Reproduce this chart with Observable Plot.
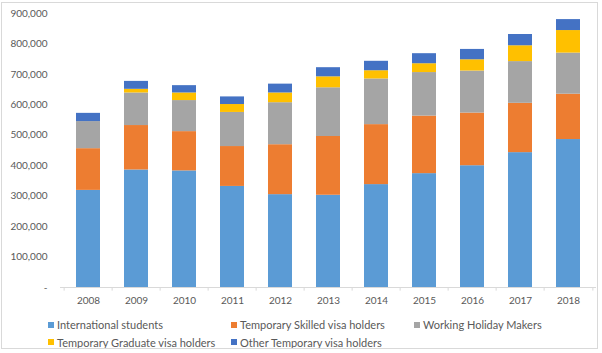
<!DOCTYPE html>
<html>
<head>
<meta charset="utf-8">
<script src="https://cdn.jsdelivr.net/npm/d3@7"></script>
<script src="https://cdn.jsdelivr.net/npm/@observablehq/plot@0.6"></script>
<style>
  html, body { margin: 0; padding: 0; background: #fff; }
  body { width: 602px; height: 353px; position: relative; overflow: hidden; font-family: Lato, "Open Sans", sans-serif; }
  #frame { position: absolute; left: 1px; top: 2px; width: 597px; height: 347px; border: 1px solid #d9d9d9; box-sizing: border-box; pointer-events: none; }
  #chart { position: absolute; left: 0; top: 0; }
  #legend { position: absolute; left: 48px; top: 316px; width: 550px; font-size: 11px; color: #595959; line-height: 17.5px; }
  .row { display: flex; }
  .item { display: flex; align-items: center; white-space: nowrap; }
  .sw { width: 6px; height: 6px; margin-right: 3px; display: inline-block; }
</style>
</head>
<body>
<div id="chart"></div>
<div id="legend"></div>
<div id="frame"></div>
<script>
const years = ["2008","2009","2010","2011","2012","2013","2014","2015","2016","2017","2018"];
const seriesNames = ["International students","Temporary Skilled visa holders","Working Holiday Makers","Temporary Graduate visa holders","Other Temporary visa holders"];
const seriesColors = ["#5B9BD5","#ED7D31","#A5A5A5","#FFC000","#4472C4"];
const internationalStudents = [319000,386000,383000,332000,305000,303000,338000,374000,400000,443000,486000];
const temporarySkilled = [137000,146000,129000,131000,164000,193000,197000,189000,173000,162000,149000];
const workingHoliday = [89000,107000,102000,112000,138000,160000,150000,143000,138000,137000,135000];
const temporaryGraduate = [0,12000,25000,26000,32000,36000,27000,29000,37000,52000,74000];
const otherTemporary = [27000,26000,24000,25000,29000,30000,31000,33000,34000,37000,36000];
const yTicks = [0,100000,200000,300000,400000,500000,600000,700000,800000,900000];

const seriesValues = [internationalStudents, temporarySkilled, workingHoliday, temporaryGraduate, otherTemporary];
const table = [];
seriesNames.forEach((s, i) => {
  years.forEach((y, j) => table.push({year: y, series: s, value: seriesValues[i][j]}));
});

const W = 602, H = 310, mL = 60, mR = 6;
const step = (W - mL - mR) / years.length;
const fmt = d => d === 0 ? "-" : d3.format(",")(d);

const chart = Plot.plot({
  width: W,
  height: H,
  marginLeft: mL,
  marginRight: mR,
  marginTop: 13,
  marginBottom: 23,
  style: {fontFamily: "Lato, 'Open Sans', sans-serif", fontSize: "10px", color: "#595959", background: "transparent"},
  x: {domain: years, paddingInner: 0.5, paddingOuter: 0.25, label: null},
  y: {domain: [0, 900000], label: null},
  color: {domain: seriesNames, range: seriesColors},
  marks: [
    Plot.barY(table, {x: "year", y: "value", fill: "series", order: seriesNames}),
    Plot.ruleY([0], {stroke: "#d9d9d9"}),
    Plot.ruleX(years, {x: d => d, dx: -step / 2, y1: 0, y2: -12000, stroke: "#d9d9d9"}),
    Plot.ruleX([years[years.length - 1]], {x: d => d, dx: step / 2, y1: 0, y2: -12000, stroke: "#d9d9d9"}),
    Plot.axisY({ticks: yTicks, tickFormat: fmt, tickSize: 0, tickPadding: 13, fill: "#595959"}),
    Plot.axisX({tickSize: 0, tickPadding: 9, fill: "#595959"})
  ]
});
document.getElementById("chart").appendChild(chart);

const legend = document.getElementById("legend");
const rows = [[0,1,2],[3,4]];
const colW = [183, 183, 180];
rows.forEach(r => {
  const row = document.createElement("div");
  row.className = "row";
  r.forEach((i, k) => {
    const it = document.createElement("div");
    it.className = "item";
    it.style.width = colW[k] + "px";
    const sw = document.createElement("span");
    sw.className = "sw";
    sw.style.background = seriesColors[i];
    it.appendChild(sw);
    it.appendChild(document.createTextNode(seriesNames[i]));
    row.appendChild(it);
  });
  legend.appendChild(row);
});
</script>
</body>
</html>
